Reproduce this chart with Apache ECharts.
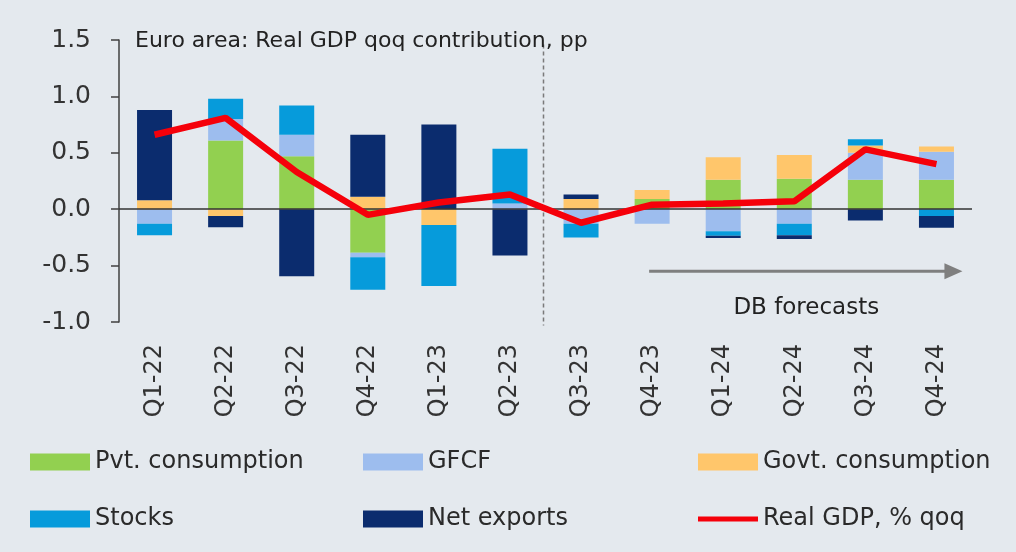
<!DOCTYPE html>
<html>
<head>
<meta charset="utf-8">
<script src="https://cdn.jsdelivr.net/npm/echarts@6/dist/echarts.min.js"></script>
<style>
html,body{margin:0;padding:0;background:#E4E9EE;}
#chart{width:1016px;height:552px;}
</style>
</head>
<body>
<div id="chart"></div>
<script>
const categories = ['Q1-22','Q2-22','Q3-22','Q4-22','Q1-23','Q2-23','Q3-23','Q4-23','Q1-24','Q2-24','Q3-24','Q4-24'];
const pvtConsumption = [0, 0.61, 0.47, -0.385, 0, 0, 0, 0.09, 0.26, 0.27, 0.26, 0.26];
const gfcf = [-0.13, 0.19, 0.19, -0.04, 0, 0.05, -0.13, -0.13, -0.195, -0.13, 0.24, 0.25];
const govtConsumption = [0.08, -0.06, 0, 0.11, -0.14, 0, 0.09, 0.08, 0.20, 0.21, 0.065, 0.045];
const stocks = [-0.10, 0.18, 0.26, -0.29, -0.54, 0.485, -0.12, 0, -0.04, -0.10, 0.055, -0.06];
const netExports = [0.80, -0.10, -0.595, 0.55, 0.75, -0.41, 0.04, 0, -0.02, -0.035, -0.10, -0.105];
const realGDP = [0.66, 0.81, 0.33, -0.05, 0.06, 0.13, -0.12, 0.04, 0.05, 0.07, 0.53, 0.40];
const yTicks = {min: -1, max: 1.5, interval: 0.5};

const chart = echarts.init(document.getElementById('chart'));
const font = '"DejaVu Sans", sans-serif';

function bar(name, data, color) {
  return {
    name: name, type: 'bar', stack: 'total', data: data,
    barWidth: 35, itemStyle: {color: color}, z: 2
  };
}

const legendCommon = {
  orient: 'vertical', itemWidth: 60, itemHeight: 17, itemGap: 33,
  icon: 'rect',
  textStyle: {fontFamily: font, fontSize: 24, lineHeight: 20, color: '#2a2a2a', padding: [0,0,0,0]},
  selectedMode: false, top: 445
};

const option = {
  backgroundColor: '#E4E9EE',
  animation: false,
  title: {
    text: 'Euro area: Real GDP qoq contribution, pp',
    left: 130, top: 25,
    textStyle: {fontFamily: font, fontSize: 22, fontWeight: 'normal', color: '#222'}
  },
  grid: {left: 119, right: 44, top: 40, bottom: 230},
  legend: [
    Object.assign({}, legendCommon, {left: 25, data: ['Pvt. consumption', 'Stocks']}),
    Object.assign({}, legendCommon, {left: 358, data: ['GFCF', 'Net exports']}),
    Object.assign({}, legendCommon, {left: 693, data: ['Govt. consumption', {name: 'Real GDP, % qoq', icon: 'path://M0,6 L60,6 L60,11 L0,11 Z'}]})
  ],
  xAxis: {
    type: 'category', data: categories,
    axisLine: {show: false, onZero: false},
    axisTick: {show: false},
    axisLabel: {rotate: 90, margin: 22, fontFamily: font, fontSize: 24, color: '#333'}
  },
  yAxis: {
    type: 'value', min: yTicks.min, max: yTicks.max, interval: yTicks.interval,
    splitLine: {show: false},
    axisLine: {show: true, lineStyle: {color: '#404040', width: 1.5}},
    axisTick: {show: true, length: 8, lineStyle: {color: '#404040', width: 1.5}},
    axisLabel: {margin: 28, fontFamily: font, fontSize: 25, color: '#333',
      formatter: v => v.toFixed(1)}
  },
  series: [
    bar('Pvt. consumption', pvtConsumption, '#92D050'),
    bar('GFCF', gfcf, '#9DBDEE'),
    bar('Govt. consumption', govtConsumption, '#FFC66B'),
    bar('Stocks', stocks, '#069BDB'),
    bar('Net exports', netExports, '#0B2C6E'),
    {
      name: 'zero', type: 'line', data: [], z: 3,
      markLine: {silent: true, symbol: 'none', label: {show: false},
        lineStyle: {color: '#333', width: 1.5, type: 'solid'},
        data: [{yAxis: 0}]}
    },
    {
      name: 'Real GDP, % qoq', type: 'line', data: realGDP, z: 5,
      symbol: 'none', lineStyle: {color: '#F5000A', width: 6.5},
      itemStyle: {color: '#F5000A'}
    }
  ]
};
chart.setOption(option);

// annotations positioned through the axes
const px = (c) => chart.convertToPixel({xAxisIndex: 0}, c);
const py = (v) => chart.convertToPixel({yAxisIndex: 0}, v);
const xDash = (px('Q2-23') + px('Q3-23')) / 2 - 2;
const xa0 = px('Q4-23') - 3;
const xa1 = px('Q4-24') + 26;
const ya = py(-0.55);
chart.setOption({
  graphic: [
    {type: 'line', shape: {x1: xDash, y1: py(1.46), x2: xDash, y2: py(-1.03)},
      style: {stroke: '#7a7a7a', lineWidth: 1.5, lineDash: [4, 3]}, z: 1},
    {type: 'line', shape: {x1: xa0, y1: ya, x2: xa1 - 16, y2: ya},
      style: {stroke: '#7f7f7f', lineWidth: 3}},
    {type: 'polygon', shape: {points: [[xa1 - 18, ya - 8], [xa1, ya], [xa1 - 18, ya + 8]]},
      style: {fill: '#7f7f7f'}},
    {type: 'text', x: px('Q2-24') + 12, y: py(-0.88),
      style: {text: 'DB forecasts', font: '23px "DejaVu Sans", sans-serif',
        fill: '#222', align: 'center', verticalAlign: 'middle'}}
  ]
});
</script>
</body>
</html>
